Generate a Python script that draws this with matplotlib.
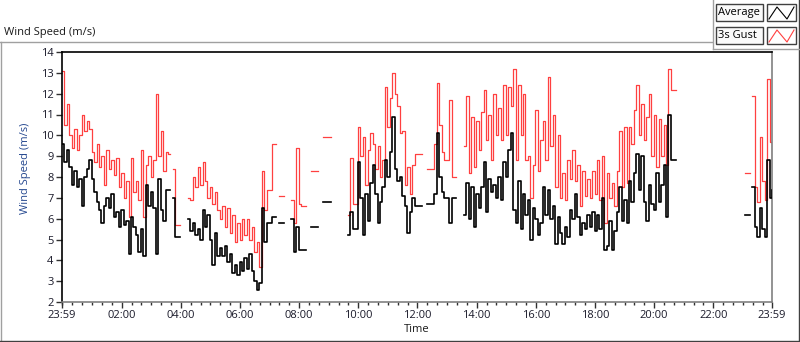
import numpy as np
import matplotlib
matplotlib.use("Agg")
import matplotlib.pyplot as plt
from matplotlib.patches import Rectangle

nan = np.nan

# ---------------- data (5-minute samples starting 23:59) ----------------
step_minutes = 5

avg_speed = [
    9.6, 8.7, 9.3, 8.5, 7.6, 8.3, 7.5, 7.9, 6.6, 8.0, 8.4, 8.8,
    7.9, 7.3, 6.8, 6.4, 5.8, 6.6, 7.0, 6.5, 7.2, 6.1, 6.3, 5.6,
    6.4, 5.7, 5.9, 4.3, 6.1, 5.6, 5.2, 4.4, 5.5, 4.2, 7.6, 6.6,
    7.3, 6.5, 4.3, 7.9, 6.4, 5.9, 7.4, 7.4, nan, 7.0, 5.1, 5.1,
    nan, nan, nan, 6.0, 5.4, 5.8, 5.2, 5.5, 5.0, 6.4, 5.6, 6.2,
    5.0, 3.8, 5.3, 4.2, 4.6, 4.2, 4.7, 3.9, 4.3, 3.4, 3.8, 3.3,
    3.9, 3.5, 4.1, 3.6, 4.3, 3.5, 3.0, 2.6, 2.9, 6.5, 4.9, 5.8,
    5.8, 6.1, 6.1, nan, 5.8, 5.8, nan, nan, nan, 6.0, 4.4, 5.6,
    4.5, 4.5, 4.5, nan, nan, 5.6, 5.6, 5.6, nan, nan, 6.8, 6.8,
    6.8, nan, nan, nan, nan, nan, nan, nan, 5.2, 6.3, 5.5, 5.5,
    8.7, 7.0, 5.2, 7.2, 5.9, 7.7, 8.6, 7.2, 5.8, 6.8, 7.5, 8.8,
    8.0, 9.2, 10.9, 8.4, 7.8, 8.0, 7.1, 6.6, 5.3, 6.3, 7.0, 6.6,
    6.6, 6.6, nan, nan, 6.7, 6.7, 6.7, 7.2, 10.1, 8.0, 7.3, 7.0,
    7.0, 5.8, 7.0, 7.0, nan, nan, nan, 6.2, 7.7, 6.0, 7.5, 5.6,
    7.2, 6.5, 7.5, 8.7, 6.3, 7.9, 7.3, 7.6, 7.0, 8.0, 6.9, 8.7,
    8.0, 9.3, 10.1, 6.4, 5.8, 7.8, 5.5, 7.2, 6.2, 6.9, 5.0, 6.5,
    6.0, 5.2, 5.8, 7.5, 6.2, 7.4, 6.0, 6.6, 4.8, 6.1, 5.3, 4.8,
    5.6, 5.1, 6.4, 6.0, 7.2, 6.1, 5.2, 5.8, 5.5, 6.2, 5.6, 6.3,
    5.4, 6.2, 5.5, 7.0, 4.5, 4.7, 5.9, 4.5, 5.4, 6.3, 7.5, 5.9,
    6.9, 5.8, 7.8, 6.8, 8.2, 9.1, 7.4, 9.0, 6.8, 5.9, 7.6, 6.7,
    6.4, 8.2, 6.8, 7.6, 8.6, 6.1, 11.0, 8.8, 8.8, nan, nan, nan,
    nan, nan, nan, nan, nan, nan, nan, nan, nan, nan, nan, nan,
    nan, nan, nan, nan, nan, nan, nan, nan, nan, nan, nan, nan,
    nan, 6.2, 6.2, nan, 7.5, 5.6, 5.1, 6.5, 5.5, 5.1, 8.8, 7.0,
    7.4,
]

gust_speed = [
    13.1, 10.5, 11.5, 10.0, 9.4, 10.3, 9.3, 10.0, 11.0, 10.2, 10.7, 10.3,
    9.2, 8.7, 9.6, 8.5, 9.0, 7.6, 9.3, 8.4, 8.8, 8.1, 8.9, 7.5,
    8.2, 7.0, 7.8, 6.1, 8.9, 7.3, 7.8, 6.9, 9.3, 6.1, 8.6, 9.0,
    8.0, 8.8, 12.0, 9.0, 10.2, 8.3, 9.2, 9.1, nan, 8.4, 5.7, 5.7,
    nan, nan, nan, 7.0, 6.9, 8.0, 7.5, 8.5, 7.6, 8.7, 7.8, 7.0,
    7.5, 6.7, 7.3, 6.4, 6.0, 6.6, 5.6, 6.5, 5.3, 6.2, 4.9, 5.8,
    5.0, 6.0, 5.2, 6.0, 5.0, 5.6, 4.4, 4.9, 3.7, 8.3, 6.4, 7.4,
    7.4, 9.6, 9.6, nan, 7.1, 7.1, nan, nan, nan, 6.9, 5.8, 9.4,
    6.7, 6.6, 6.6, nan, nan, 8.3, 8.3, 8.3, nan, nan, 9.9, 9.9,
    9.9, nan, nan, nan, nan, nan, nan, nan, 6.2, 8.9, 6.7, 6.7,
    10.4, 9.0, 9.9, 7.6, 9.3, 10.1, 9.6, 8.4, 9.5, 8.0, 8.8, 12.3,
    10.4, 11.8, 13.0, 12.0, 11.4, 10.1, 10.2, 7.6, 8.5, 7.2, 8.6, 9.1,
    9.1, 9.1, nan, nan, 8.4, 8.4, 8.4, 9.6, 12.5, 10.5, 9.2, 8.8,
    8.8, 11.7, 8.0, 8.0, nan, nan, nan, 9.5, 11.9, 8.2, 10.9, 8.5,
    10.7, 9.3, 11.1, 12.2, 9.8, 11.0, 8.8, 12.0, 10.0, 11.3, 9.8, 12.4,
    10.0, 12.3, 11.4, 13.2, 8.8, 12.4, 10.0, 12.0, 8.8, 9.0, 7.0, 8.6,
    11.2, 8.3, 9.8, 10.7, 8.8, 12.8, 9.5, 11.0, 7.5, 10.0, 7.0, 8.2,
    6.9, 8.8, 7.9, 9.3, 7.8, 8.6, 6.6, 8.3, 7.1, 7.9, 7.0, 8.3,
    7.2, 8.8, 6.9, 9.0, 5.8, 8.2, 7.0, 7.7, 6.6, 8.3, 10.2, 7.5,
    10.4, 7.7, 10.4, 9.6, 11.2, 12.4, 10.0, 11.5, 9.8, 10.9, 12.0, 9.0,
    11.0, 8.5, 10.8, 9.0, 10.5, 8.6, 13.2, 12.2, 12.2, nan, nan, nan,
    nan, nan, nan, nan, nan, nan, nan, nan, nan, nan, nan, nan,
    nan, nan, nan, nan, nan, nan, nan, nan, nan, nan, nan, nan,
    nan, 8.2, 8.2, nan, 11.9, 7.5, 6.8, 9.9, 7.8, 6.9, 12.7, 9.7,
    8.5,
]

x_tick_labels = ["23:59", "02:00", "04:00", "06:00", "08:00", "10:00", "12:00",
                 "14:00", "16:00", "18:00", "20:00", "22:00", "23:59"]
x_tick_hours = [0.0] + [2 * k + 1 / 60 for k in range(1, 12)] + [24.0]
y_ticks = list(range(2, 15))
series_names = ["Average", "3s Gust"]
series_colors = ["#000000", "#ff4040"]

# ---------------- figure ----------------
plt.rcParams['font.family'] = ['Open Sans', 'DejaVu Sans']
W, H = 800, 342
fig = plt.figure(figsize=(W / 100, H / 100), dpi=100)
fig.patch.set_facecolor("white")

ax = fig.add_axes([62 / W, 1 - 302 / H, 710 / W, 250 / H])
t = np.arange(len(avg_speed)) * step_minutes / 60.0
ax.plot(t, np.array(gust_speed, dtype=float), drawstyle="steps-post",
        color=series_colors[1], lw=0.9, zorder=2)
ax.plot(t, np.array(avg_speed, dtype=float), drawstyle="steps-post",
        color=series_colors[0], lw=1.2, zorder=3)

ax.set_xlim(0, 24)
ax.set_ylim(2, 14)
ax.set_yticks(y_ticks)
ax.set_yticklabels([str(v) for v in y_ticks])
ax.set_xticks(x_tick_hours)
ax.set_xticklabels(x_tick_labels)
ax.set_xticks(np.arange(1 / 60, 24, 1 / 3), minor=True)
ax.tick_params(axis="both", which="major", direction="out", length=4,
               width=1, color="#303030", labelsize=8, labelcolor="#1a1a2a", pad=2)
ax.tick_params(axis="x", which="minor", direction="out", length=2.5,
               width=1, color="#303030")
ax.tick_params(axis="y", which="minor", left=False)

for side in ("left", "top"):
    ax.spines[side].set_color("#000000")
    ax.spines[side].set_linewidth(1.2)
for side in ("right", "bottom"):
    ax.spines[side].set_color("#808080")
    ax.spines[side].set_linewidth(1.2)

ax.set_xlabel("Time", fontsize=8, color="#1a1a1a", labelpad=2)
ax.set_ylabel("Wind Speed (m/s)", fontsize=8, color="#24478f")
ax.yaxis.set_label_coords(-31 / 710, (302 - 168) / 250)

fig.text(4 / W, 1 - 33 / H, "Wind Speed (m/s)", fontsize=8, color="#1a1a1a",
         ha="left", va="center")

# ---------------- frame + legend overlay (pixel coordinates) ----------------
ov = fig.add_axes([0, 0, 1, 1], zorder=10)
ov.set_xlim(0, W)
ov.set_ylim(H, 0)
ov.axis("off")
ov.patch.set_alpha(0)

gray = "#a0a0a0"
dark = "#404040"
ov.plot([0, 712], [41.5, 41.5], color=gray, lw=1)
ov.plot([0.5, 0.5], [41.5, 341], color=gray, lw=1)
ov.plot([0, 799], [340.5, 340.5], color=dark, lw=1)
ov.plot([798.5, 798.5], [0, 341], color=dark, lw=1)
ov.plot([712.5, 712.5], [0, 49], color=gray, lw=1)
ov.plot([712.5, 799], [48.5, 48.5], color=gray, lw=1)

rows = [(4, 21), (27, 44)]
for (y0, y1), name, col in zip(rows, series_names, series_colors):
    ov.add_patch(Rectangle((716, y0), 47, y1 - y0, fill=True, facecolor="#fafafa",
                           edgecolor=dark, lw=1))
    ov.text(718, (y0 + y1) / 2 + 0.5, name, fontsize=8, color="#000000",
            ha="left", va="center")
    ov.add_patch(Rectangle((767, y0), 29, y1 - y0, fill=True, facecolor="white",
                           edgecolor=dark, lw=1))
    ov.plot([769, 777, 787, 794], [y1 - 2, y0 + 3, y1 - 2, y0 + 3], color=col, lw=0.8)

fig.savefig("out.png", dpi=100, facecolor="white")
